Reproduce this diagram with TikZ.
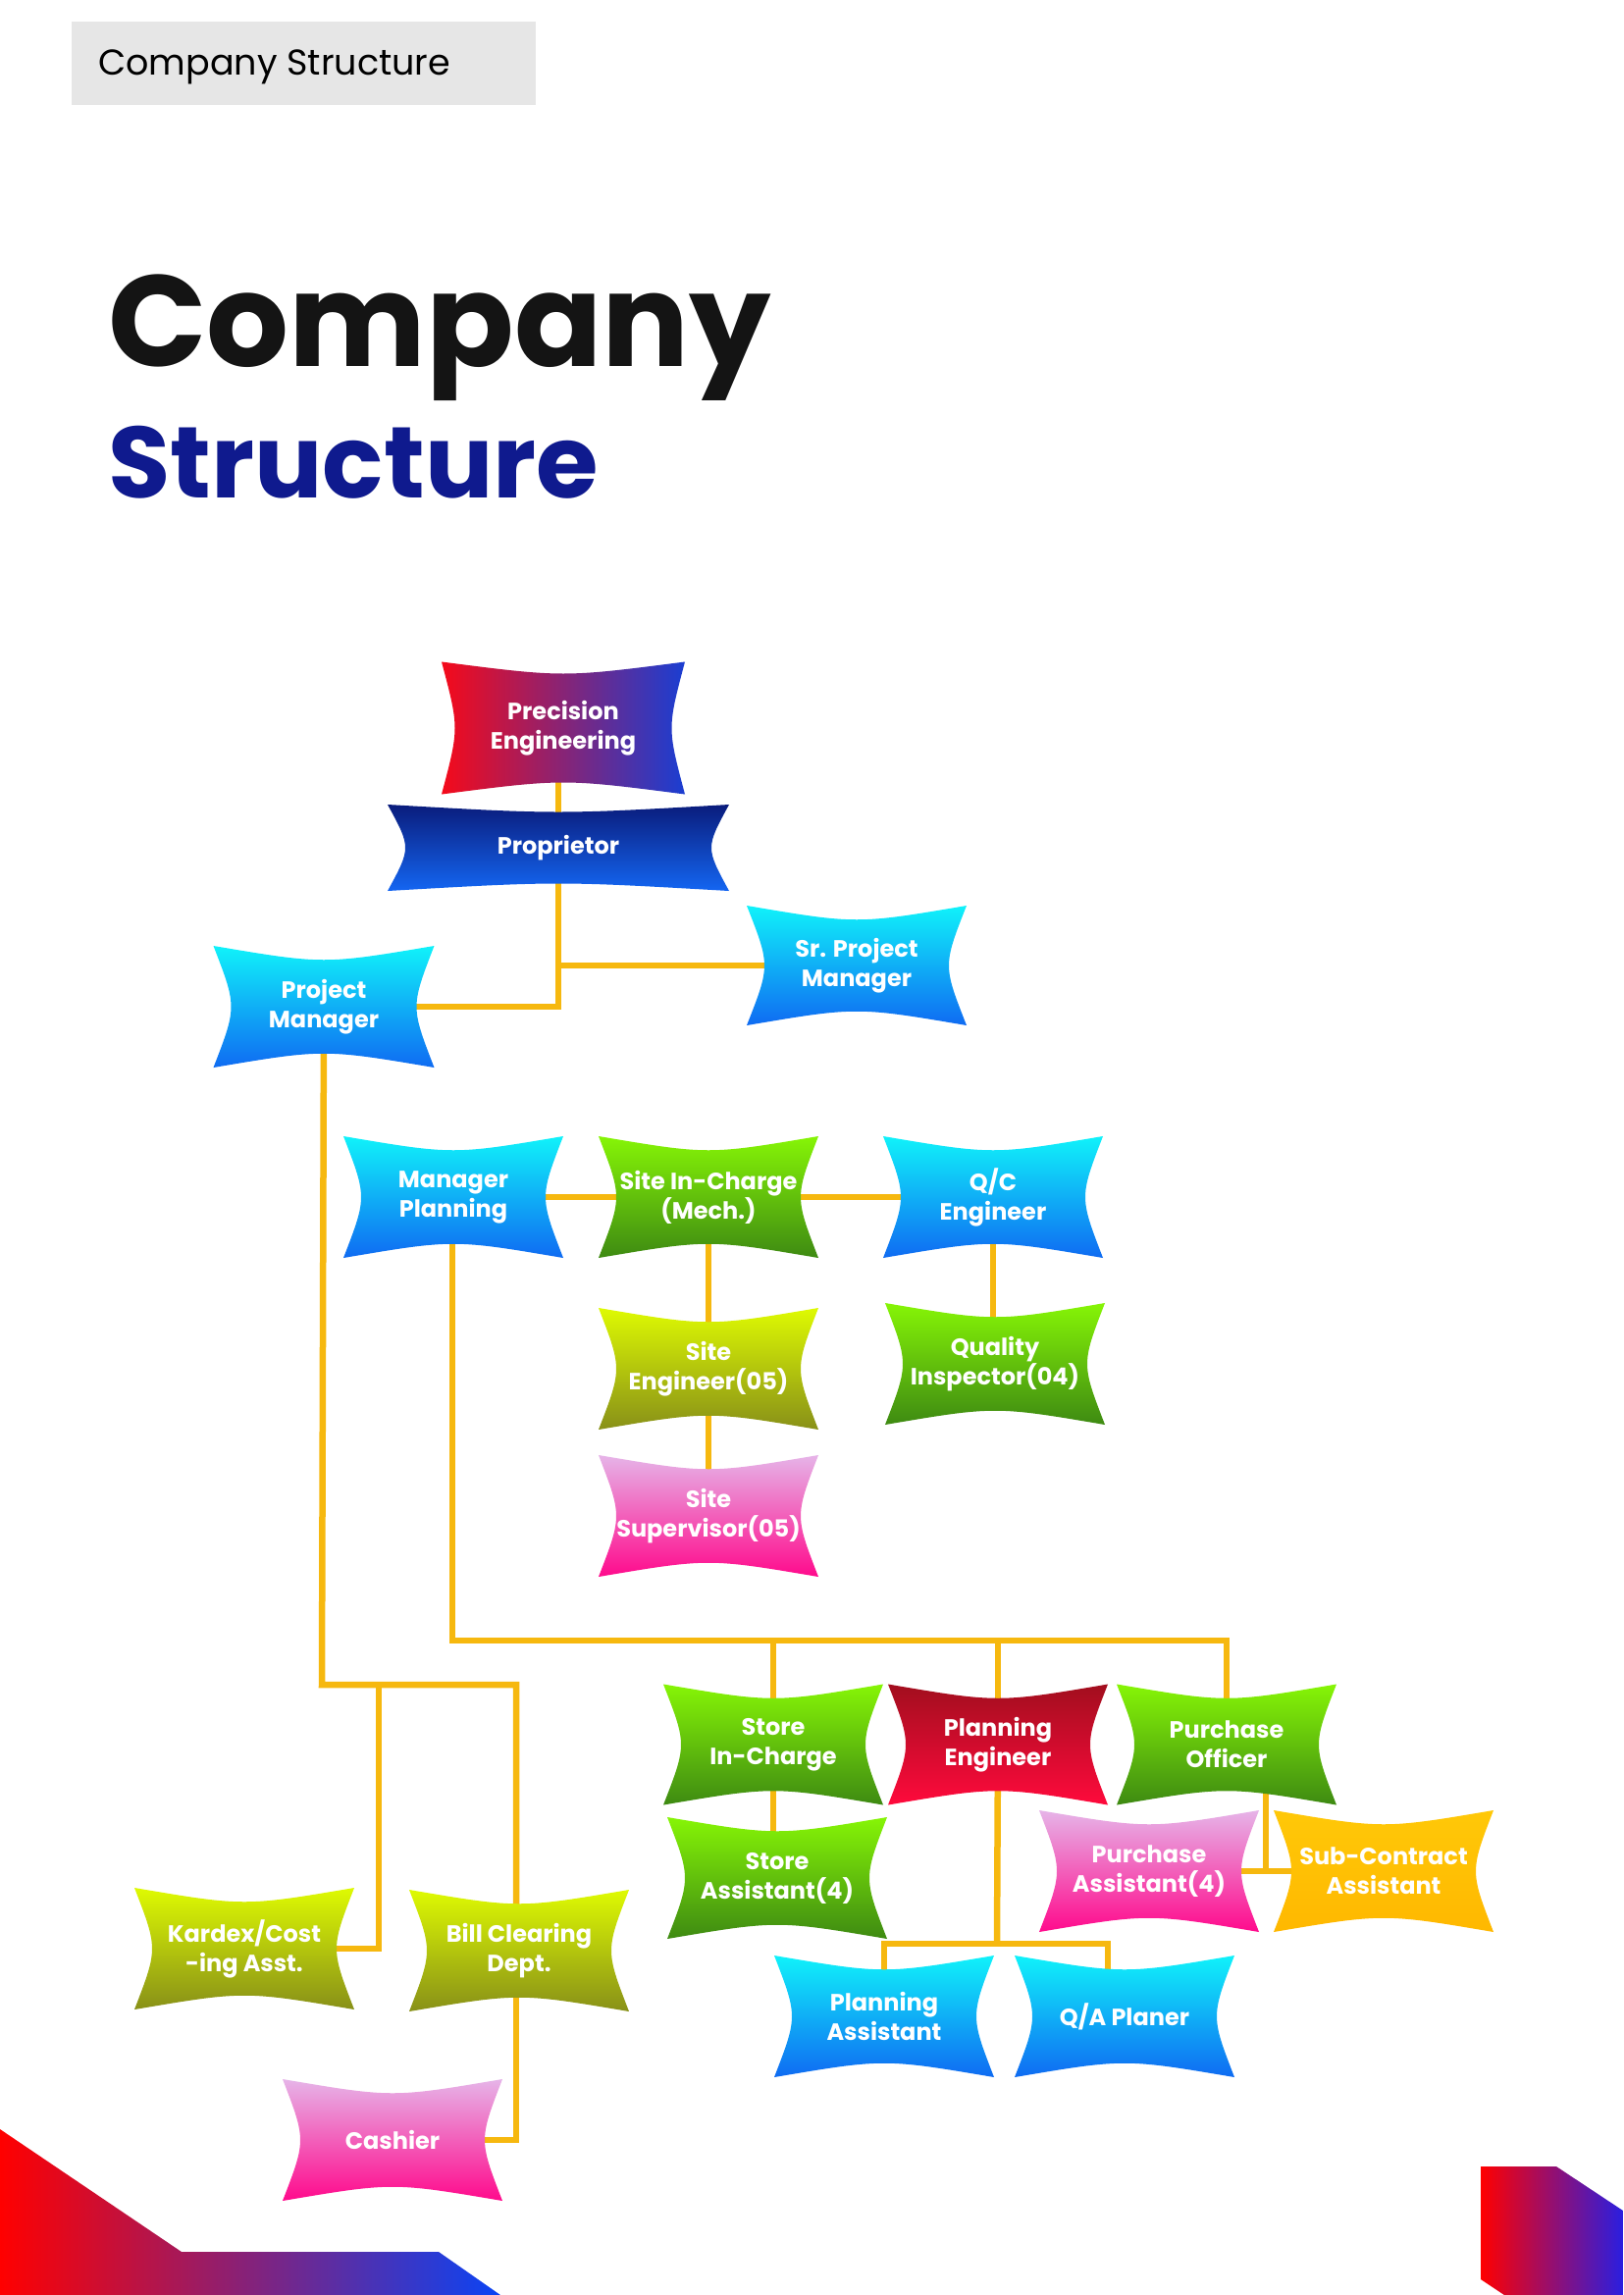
\documentclass[tikz,border=0pt]{standalone}
\usepackage{fontspec}
\setmainfont{Poppins}
\pgfdeclarelayer{bg}
\pgfsetlayers{bg,main}
\definecolor{hdrgray}{HTML}{E6E6E6}
\definecolor{navy}{HTML}{0F1A8E}
\definecolor{conn}{HTML}{F6B80F}
\definecolor{cyanT}{HTML}{10F2FA}
\definecolor{blueB}{HTML}{0F6BF2}
\definecolor{greenT}{HTML}{86F506}
\definecolor{greenB}{HTML}{3E8A12}
\definecolor{yelT}{HTML}{DEFA02}
\definecolor{yelB}{HTML}{889018}
\definecolor{pinkT}{HTML}{E6B4E8}
\definecolor{pinkB}{HTML}{FF0A8C}
\definecolor{redT}{HTML}{A20E1E}
\definecolor{redB}{HTML}{FF0A3C}
\definecolor{orT}{HTML}{FFC808}
\definecolor{orB}{HTML}{FFB800}
\definecolor{navT}{HTML}{0A1C7C}
\definecolor{navB}{HTML}{1466F2}
\definecolor{peL}{HTML}{F50A1A}
\definecolor{peR}{HTML}{1A3ED2}
\definecolor{decoL}{HTML}{FF0000}
\definecolor{decoR}{HTML}{0A44F5}
\definecolor{decoR2}{HTML}{2A1EE0}
\tikzset{
  lbl/.style={inner sep=0pt, align=center, text=white,
    font=\bfseries\fontsize{24}{30}\selectfont},
  cyanblue/.style={top color=cyanT, bottom color=blueB},
  greenish/.style={top color=greenT, bottom color=greenB},
  olive/.style={top color=yelT, bottom color=yelB},
  pinkish/.style={top color=pinkT, bottom color=pinkB},
  reddish/.style={top color=redT, bottom color=redB},
  orangey/.style={top color=orT, bottom color=orB},
  navyblue/.style={top color=navT, bottom color=navB},
  redblue/.style={left color=peL, right color=peR},
  link/.style={draw=conn, line width=6.5pt}
}
% #1 name, #2 cx, #3 cy (down), #4 w, #5 h, #6 top ctrl, #7 side ctrl, #8 shading, #9 text
\newcommand\bnode[9]{%
  \shade[#8] (#2-#4/2,-#3+#5/2)
    .. controls (#2,-#3+#5/2-#6) .. (#2+#4/2,-#3+#5/2)
    .. controls (#2+#4/2-#7,-#3) .. (#2+#4/2,-#3-#5/2)
    .. controls (#2,-#3-#5/2+#6) .. (#2-#4/2,-#3-#5/2)
    .. controls (#2-#4/2+#7,-#3) .. (#2-#4/2,-#3+#5/2) -- cycle;
  \node[lbl] (#1) at (#2,-#3) {#9};
}
\begin{document}
\begin{tikzpicture}[x=1pt,y=1pt]
\useasboundingbox (0,0) rectangle (1654,-2339);
% header
\fill[hdrgray] (73,-22) rectangle (546,-107);
\node[anchor=base west, inner sep=0pt, font=\fontsize{36.5}{40}\selectfont] (hdr) at (100,-77) {Company Structure};
% title
\node[anchor=base west, inner sep=0pt, text=black!92, font=\bfseries\fontsize{132}{140}\selectfont] (t1) at (110,-373) {Company};
\node[anchor=base west, inner sep=0pt, text=navy, font=\bfseries\fontsize{103}{110}\selectfont] (t2) at (110,-507) {Structure};
% corner decorations
\shade[left color=decoL, right color=decoR] (0,-2170) -- (185,-2295) -- (447,-2295) -- (510,-2339) -- (0,-2339) -- cycle;
\shade[left color=decoL, right color=decoR2] (1509,-2208) -- (1586,-2208) -- (1654,-2253) -- (1654,-2339) -- (1533,-2339) -- (1509,-2323) -- cycle;
% nodes
\bnode{PE}{574}{742}{248}{135}{16}{18}{redblue}{Precision\\Engineering}
\bnode{Prop}{569}{864}{348}{88}{10}{24}{navyblue}{Proprietor}
\bnode{SrPM}{873}{984}{224}{122}{19}{24}{cyanblue}{Sr. Project\\Manager}
\bnode{PM}{330}{1026}{225}{124}{19}{24}{cyanblue}{Project\\Manager}
\bnode{MP}{462}{1220}{224}{124}{19}{24}{cyanblue}{Manager\\Planning}
\bnode{SIC}{722}{1220}{224}{124}{19}{24}{greenish}{Site In-Charge\\(Mech.)}
\bnode{QC}{1012}{1220}{224}{124}{19}{24}{cyanblue}{Q/C\\Engineer}
\bnode{SE}{722}{1395}{224}{124}{19}{24}{olive}{Site\\Engineer(05)}
\bnode{QI}{1014}{1390}{224}{124}{19}{24}{greenish}{Quality\\Inspector(04)}
\bnode{SS}{722}{1545}{224}{124}{19}{24}{pinkish}{Site\\Supervisor(05)}
\bnode{StIC}{788}{1778}{224}{123}{19}{24}{greenish}{Store\\In-Charge}
\bnode{PlE}{1017}{1778}{224}{123}{19}{24}{reddish}{Planning\\Engineer}
\bnode{PO}{1250}{1778}{224}{123}{19}{24}{greenish}{Purchase\\Officer}
\bnode{StA}{792}{1914}{224}{124}{19}{24}{greenish}{Store\\Assistant(4)}
\bnode{PA}{1171}{1907}{224}{124}{19}{24}{pinkish}{Purchase\\Assistant(4)}
\bnode{SCA}{1410}{1907}{224}{124}{19}{24}{orangey}{Sub-Contract\\Assistant}
\bnode{KA}{249}{1986}{224}{124}{19}{24}{olive}{Kardex/Cost\\-ing Asst.}
\bnode{BC}{529}{1988}{224}{124}{19}{24}{olive}{Bill Clearing\\Dept.}
\bnode{PlA}{901}{2055}{224}{124}{19}{24}{cyanblue}{Planning\\Assistant}
\bnode{QAP}{1146}{2055}{224}{124}{19}{24}{cyanblue}{Q/A Planer}
\bnode{Ca}{400}{2181}{224}{124}{19}{24}{pinkish}{Cashier}
% connectors
\coordinate (j1) at (328,-1717);
\coordinate (j2) at (386,-1717);
\coordinate (j3) at (461,-1672);
\coordinate (j4) at (1290,-1907);
\coordinate (j5) at (1016,-1981);
\coordinate (j6) at (1129,-1981);
\coordinate (j7) at (526,-1717);
\begin{pgfonlayer}{bg}
\fill[white] (0,0) rectangle (1654,-2339);
\draw[link] (Prop.center) -- (Prop.center |- PE.center);
\draw[link] (Prop.center) |- (PM.center);
\draw[link] (Prop.center |- SrPM.center) -- (SrPM.center);
\draw[link] (PM.center) -- (j1) -- (j7) -- (j7 |- BC.center);
\draw[link] (j2) |- (KA.center);
\draw[link] (j7 |- BC.center) |- (Ca.center);
\draw[link] (MP.center) -- (SIC.center) -- (QC.center);
\draw[link] (SIC.center) -- (SE.center) -- (SS.center);
\draw[link] (QC.center) -- (QC.center |- QI.center);
\draw[link] (j3 |- MP.center) -- (j3) -| (PO.center);
\draw[link] (StIC.center |- j3) -- (StIC.center) -- (StIC.center |- StA.center);
\draw[link] (PlE.center |- j3) -- (PlE.center);
\draw[link] (j4 |- PO.center) -- (j4);
\draw[link] (PA.center) -- (SCA.center);
\draw[link] (PlE.center) -- (j5);
\draw[link] (PlA.center) |- (j6) -- (j6 |- QAP.center);
\end{pgfonlayer}
\end{tikzpicture}
\end{document}
